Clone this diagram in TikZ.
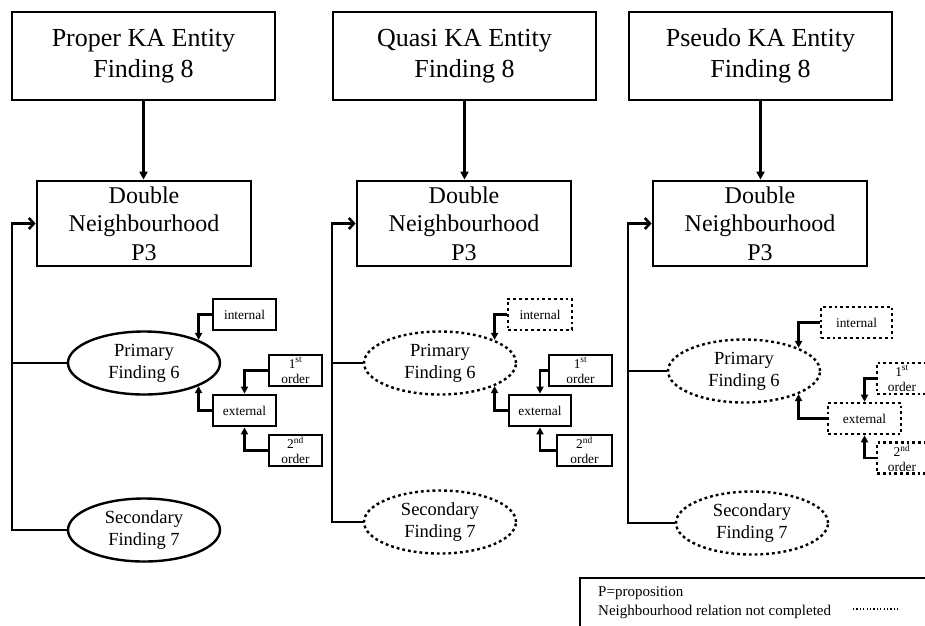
\documentclass[tikz,border=0pt]{standalone}
\usepackage{fontspec}
\setmainfont{Liberation Serif}
\usetikzlibrary{arrows.meta,shapes.geometric}

\begin{document}
\begin{tikzpicture}[x=1pt,y=-1pt,
  every node/.style={inner sep=0pt, align=center},
  solidline/.style={draw, line width=2.8pt},
  dotline/.style={draw, line width=2.6pt, dash pattern=on 2.8pt off 3pt},
  headbox/.style={solidline, rectangle, minimum width=263pt, minimum height=88pt,
    font=\fontsize{26}{31}\selectfont},
  dblbox/.style={solidline, rectangle, minimum width=214pt, minimum height=85pt,
    font=\fontsize{24}{28.5}\selectfont},
  findell/.style={ellipse, line width=2.4pt, minimum width=152pt, minimum height=63pt,
    font=\fontsize{18.5}{22}\selectfont},
  solidell/.style={findell, draw},
  dotell/.style={findell, draw, dash pattern=on 2.8pt off 3pt},
  tag/.style={rectangle, minimum height=31pt, font=\fontsize{13.4}{15}\selectfont},
  solidtag/.style={tag, solidline},
  dottag/.style={tag, dotline},
  down/.style={line width=2.6pt, -{Triangle[length=8pt,width=8pt]}},
  feed/.style={line width=2.6pt, -{Straight Barb[length=5pt,width=11pt]}},
  link/.style={line width=2.6pt, -{Triangle[length=7pt,width=7pt]}},
  branch/.style={line width=2.2pt},
  legendtext/.style={anchor=base west, font=\fontsize{15}{18}\selectfont}
]
\useasboundingbox (0,0) rectangle (925,625);
\fill[white] (0,0) rectangle (925,625);
\clip (0,0) rectangle (925,625);

% ---------- Proper KA entity ----------
\node[headbox] (hA) at (143.5,56) {Proper KA Entity\\Finding 8};
\node[dblbox] (dA) at (144,223.5) {Double\\Neighbourhood\\P3};
\node[solidell] (pA) at (144,363) {Primary\\Finding 6};
\node[solidell] (sA) at (144,530) {Secondary\\Finding 7};
\node[solidtag, minimum width=63pt] (iA) at (244.5,314.5) {internal};
\node[solidtag, minimum width=53pt] (oA1) at (295.5,370.5) {1\textsuperscript{st}\\order};
\node[solidtag, minimum width=63pt] (eA) at (244.5,410.5) {external};
\node[solidtag, minimum width=53pt] (oA2) at (295.5,450.5) {2\textsuperscript{nd}\\order};
\coordinate (kA) at (12,530);

\draw[down] (hA.south) -- (hA.south |- dA.north);
\draw[feed] (sA.west) -- (kA) |- (dA.west);
\draw[branch] (pA.west) -- (pA.west -| kA);
\draw[link] (iA.west) -| (pA.north east);
\draw[link] (eA.west) -| (pA.south east);
\draw[link] (oA1.west) -| (eA.north);
\draw[link] (oA2.west) -| (eA.south);

% ---------- Quasi KA entity ----------
\node[headbox] (hB) at (464.5,56) {Quasi KA Entity\\Finding 8};
\node[dblbox] (dB) at (464,223.5) {Double\\Neighbourhood\\P3};
\node[dotell] (pB) at (440,363) {Primary\\Finding 6};
\node[dotell] (sB) at (440,522) {Secondary\\Finding 7};
\node[dottag, minimum width=64pt] (iB) at (540,314.5) {internal};
\node[solidtag, minimum width=63pt] (oB1) at (580.5,370.5) {1\textsuperscript{st}\\order};
\node[solidtag, minimum width=62pt] (eB) at (540,410.5) {external};
\node[solidtag, minimum width=55pt] (oB2) at (584.5,450.5) {2\textsuperscript{nd}\\order};
\coordinate (kB) at (332,522);

\draw[down] (hB.south) -- (hB.south |- dB.north);
\draw[feed] (sB.west) -- (kB) |- (dB.west);
\draw[branch] (pB.west) -- (pB.west -| kB);
\draw[link] (iB.west) -| (pB.north east);
\draw[link] (eB.west) -| (pB.south east);
\draw[link] (oB1.west) -| (eB.north);
\draw[link] (oB2.west) -| (eB.south);

% ---------- Pseudo KA entity ----------
\node[headbox] (hC) at (760.5,56) {Pseudo KA Entity\\Finding 8};
\node[dblbox] (dC) at (760,223.5) {Double\\Neighbourhood\\P3};
\node[dotell] (pC) at (744,371) {Primary\\Finding 6};
\node[dotell] (sC) at (752,523) {Secondary\\Finding 7};
\node[dottag, minimum width=71pt] (iC) at (856.5,322.5) {internal};
\node[dottag, minimum width=50pt] (oC1) at (902,378.5) {1\textsuperscript{st}\\order};
\node[dottag, minimum width=73pt] (eC) at (864.5,418.5) {external};
\node[dottag, minimum width=50pt] (oC2) at (902,458) {2\textsuperscript{nd}\\order};
\coordinate (kC) at (628,523);

\draw[down] (hC.south) -- (hC.south |- dC.north);
\draw[feed] (sC.west) -- (kC) |- (dC.west);
\draw[branch] (pC.west) -- (pC.west -| kC);
\draw[link] (iC.west) -| (pC.north east);
\draw[link] (eC.west) -| (pC.south east);
\draw[link] (oC1.west) -| (eC.north);
\draw[link] (oC2.west) -| (eC.south);

% ---------- Legend ----------
\node[solidline, rectangle, minimum width=365pt, minimum height=72pt] (legend) at (762.5,614) {};
\node[legendtext] (lgP) at (598,596) {P=proposition};
\node[legendtext] (lgN) at (598,615) {Neighbourhood relation not completed};
\draw[line width=1.3pt, dash pattern=on 1.2pt off 2.2pt] (853,609) -- (898,609);
\end{tikzpicture}
\end{document}
